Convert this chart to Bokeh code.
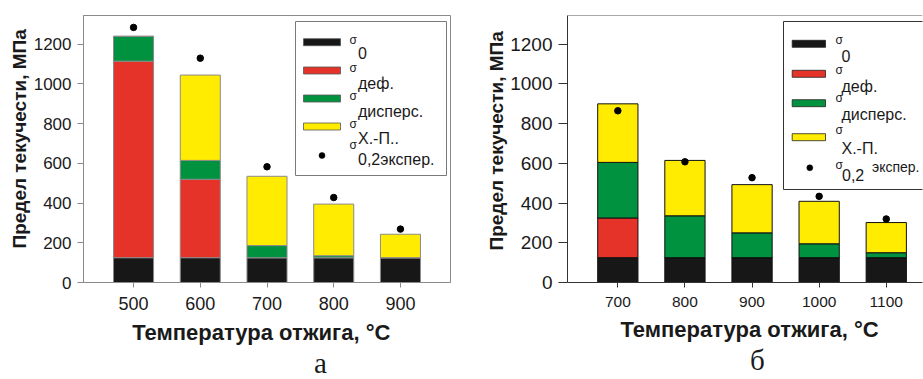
import math
from bokeh.plotting import figure
from bokeh.models import ColumnDataSource, Range1d, Label, BoxAnnotation, Span, FixedTicker, Title
from bokeh.layouts import row
from bokeh.embed import file_html
from bokeh.resources import INLINE

# ---------------- data ----------------
temps_a = [500, 600, 700, 800, 900]
s0_a = [125, 125, 125, 125, 125]
sdef_a = [990, 395, 0, 0, 0]
sdisp_a = [125, 95, 61, 10, 0]
shp_a = [0, 430, 349, 260, 118]
exp_a = [1285, 1130, 583, 428, 269]

temps_b = [700, 800, 900, 1000, 1100]
s0_b = [125, 125, 125, 125, 125]
sdef_b = [200, 0, 0, 0, 0]
sdisp_b = [280, 211, 125, 70, 25]
shp_b = [295, 279, 243, 214, 152]
exp_b = [865, 608, 528, 434, 320]

y_ticks = [0, 200, 400, 600, 800, 1000, 1200]
ylabel = "Предел текучести, МПа"
xlabel = "Температура отжига, °C"
legend_a = ["0", "деф.", "дисперс.", "Х.-П..", "0,2экспер."]
legend_b = ["0", "деф.", "дисперс.", "Х.-П.", "0,2", "экспер."]

FONT = "Liberation Sans"
TXT = "#1a1a1a"
colors = ["#171717", "#E5332A", "#00923F", "#FFEC00"]
names = ["s0", "sdef", "sdisp", "shp"]
H = 379
FT, FB = 15, 282  # frame top / bottom in page px


def make_fig(width, bl, br, xr, temps, cols, expv, line_col, axis_col, xfs, yfs, ytick):
    p = figure(width=width, height=H, x_range=Range1d(*xr), y_range=Range1d(0, 1345),
               min_border_left=bl, min_border_right=br, min_border_top=FT,
               min_border_bottom=H - FB, toolbar_location=None, output_backend="svg")
    src = ColumnDataSource(dict(x=temps, s0=cols[0], sdef=cols[1], sdisp=cols[2], shp=cols[3], e=expv))
    p.vbar_stack(names, x="x", width=60, source=src, fill_color=colors,
                 line_color=line_col, line_width=1)
    p.scatter("x", "e", source=src, size=6.5, color="black")
    p.xgrid.visible = False
    p.ygrid.visible = False
    for ax, fs in ((p.xaxis[0], xfs), (p.yaxis[0], yfs)):
        ax.axis_line_color = axis_col
        ax.major_tick_line_color = axis_col
        ax.minor_tick_line_color = None
        ax.major_tick_in = 0
        ax.major_label_text_font = FONT
        ax.major_label_text_font_size = fs
        ax.major_label_text_color = TXT
    p.xaxis.major_tick_out = 5
    p.yaxis.major_tick_out = ytick
    p.xaxis.ticker = FixedTicker(ticks=temps)
    p.yaxis.ticker = FixedTicker(ticks=y_ticks)
    p.xaxis.major_label_standoff = 9
    p.yaxis.major_label_standoff = 6
    return p


def lab(p, FL, px, py, text, size):
    p.add_layout(Label(x=px - FL, y=FB - py, x_units="screen", y_units="screen", text=text,
                       text_font=FONT, text_font_size=size, text_color=TXT,
                       text_align="left", text_baseline="middle"))


def box(p, FL, l, r, t, b, fill, line, lw=1.0, radius=0):
    p.add_layout(BoxAnnotation(left=l - FL, right=r - FL, top=FB - t, bottom=FB - b,
                               left_units="screen", right_units="screen",
                               top_units="screen", bottom_units="screen",
                               fill_color=fill, fill_alpha=1.0, line_color=line,
                               line_width=lw, line_alpha=1.0, border_radius=radius))


def titles(p, ytitle_off, xtitle_off, panel, panel_off):
    p.add_layout(Title(text=ylabel, align="left", offset=ytitle_off, standoff=2,
                       text_font=FONT, text_font_size="19px", text_font_style="bold",
                       text_color=TXT), "left")
    p.add_layout(Title(text=xlabel, align="left", offset=xtitle_off, standoff=10,
                       text_font=FONT, text_font_size="22px", text_font_style="bold",
                       text_color=TXT), "below")
    p.add_layout(Title(text=panel, align="left", offset=panel_off, standoff=-9,
                       text_font="Liberation Serif", text_font_size="29px",
                       text_font_style="normal", text_color=TXT), "below")


# ---------------- panel a ----------------
FLa = 83
pa = make_fig(470, FLa, 20, (425, 975), temps_a, [s0_a, sdef_a, sdisp_a, shp_a], exp_a,
              "#8a8a8a", "#8a8a8a", "18px", "17px", 6)
pa.outline_line_color = "#8a8a8a"

box(pa, FLa, 295, 446, 21, 175, "white", "#7a7a7a")
rows_a = [41.7, 70, 98, 126]
sig_base_a = [43, 71, 99, 127, 148]
sub_base_a = [55, 85, 113, 140, 161]
for i, ry in enumerate(rows_a):
    box(pa, FLa, 303, 340, ry - 3.5, ry + 3.5, colors[i], "#555555", 0.8)
box(pa, FLa, 318.5, 324.5, 152, 158, "black", "black", 0.5, 3)
for i in range(5):
    lab(pa, FLa, 349, sig_base_a[i] - 4, "σ", "12px")
    lab(pa, FLa, 357.5, sub_base_a[i] - 2.5, legend_a[i], "16px")
titles(pa, 34, 48.7, "а", 230.5)

# ---------------- panel b ----------------
FLb = 470 + 97
pb = make_fig(453, 97, 1, (625, 1154), temps_b, [s0_b, sdef_b, sdisp_b, shp_b], exp_b,
              "#111111", "#333333", "15.5px", "19px", 9)
pb.outline_line_color = None
pb.add_layout(Span(location=1345, dimension="width", line_color="#555555", line_width=1))

box(pb, FLb, 783, 960, 21, 189, "white", "#333333")
rows_b = [43.3, 73.3, 102.7, 136.7]
sig_base_b = [43, 73, 101.5, 133]
sub_base_b = [58, 88, 116.5, 150]
for i, ry in enumerate(rows_b):
    box(pb, FLb, 791.7, 825, ry - 3.5, ry + 3.5, colors[i], "#222222", 0.8)
    lab(pb, FLb, 835, sig_base_b[i] - 4, "σ", "12px")
    lab(pb, FLb, 841, sub_base_b[i] - 2.5, legend_b[i], "16px")
box(pb, FLb, 806.3, 812.3, 164.3, 170.3, "black", "black", 0.5, 3)
lab(pb, FLb, 835, 164, "σ", "12px")
lab(pb, FLb, 841.5, 174.5, legend_b[4], "16px")
lab(pb, FLb, 871.5, 166.5, legend_b[5], "14px")
titles(pb, 32, 53, "б", 182.5)

layout = row(pa, pb)
open("out.html", "w").write(file_html(layout, INLINE))
